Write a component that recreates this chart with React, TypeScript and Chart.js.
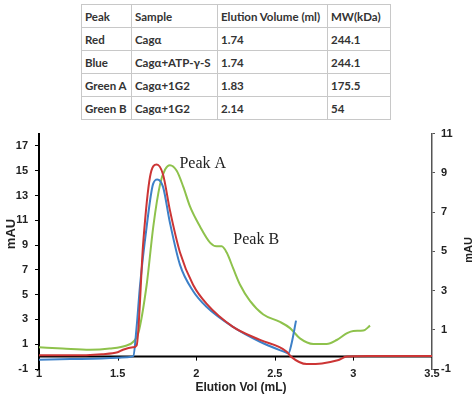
import React, { useEffect, useRef } from "react";
import { Chart, registerables } from "chart.js";
Chart.register(...registerables);

// Table data
const tablePeaks = ["Peak", "Red", "Blue", "Green A", "Green B"];
const tableSamples = ["Sample", "Cagα", "Cagα+ATP-γ-S", "Cagα+1G2", "Cagα+1G2"];
const tableElution = ["Elution Volume (ml)", "1.74", "1.74", "1.83", "2.14"];
const tableMW = ["MW(kDa)", "244.1", "244.1", "175.5", "54"];

// Chromatogram series (x: elution volume mL, y: mAU on left axis)
const redX = [1.0, 1.2, 1.4, 1.5, 1.534, 1.598, 1.621, 1.663, 1.706, 1.749, 1.789, 1.833, 1.897, 1.98, 2.067, 2.234, 2.406, 2.576, 2.603, 2.703, 2.8, 2.9, 2.959, 3.1, 3.5];
const redY = [0.1, 0.1, 0.2, 0.35, 0.55, 0.75, 0.9, 9.2, 14.5, 15.5, 14.7, 11.8, 8.4, 5.8, 4.25, 2.4, 1.35, 0.4, 0.0, -0.6, -0.55, -0.3, 0.0, 0.05, 0.05];

const blueX = [1.0, 1.2, 1.4, 1.5, 1.56, 1.6, 1.621, 1.643, 1.685, 1.725, 1.753, 1.789, 1.833, 1.897, 1.98, 2.067, 2.234, 2.406, 2.576, 2.586, 2.607, 2.635];
const blueY = [-0.25, -0.2, -0.15, -0.1, -0.05, 0.05, 2.4, 5.8, 10.5, 13.9, 14.3, 13.7, 10.8, 7.4, 5.3, 4.0, 2.4, 1.2, 0.3, 0.25, 1.08, 2.9];

const greenX = [1.0, 1.15, 1.324, 1.45, 1.558, 1.6, 1.632, 1.685, 1.727, 1.77, 1.802, 1.833, 1.876, 1.918, 1.961, 2.024, 2.088, 2.13, 2.162, 2.194, 2.236, 2.279, 2.342, 2.427, 2.533, 2.597, 2.66, 2.745, 2.83, 2.894, 2.957, 2.999, 3.063, 3.106];
const greenY = [0.75, 0.65, 0.55, 0.65, 0.9, 1.2, 1.9, 5.8, 10.5, 13.9, 15.1, 15.45, 15.0, 13.7, 12.1, 10.5, 9.2, 8.9, 8.9, 8.4, 7.1, 5.8, 4.5, 3.4, 2.8, 2.3, 1.47, 1.02, 1.02, 1.34, 1.87, 2.07, 2.1, 2.5];

// Tick labels
const xTicks = [1, 1.5, 2, 2.5, 3, 3.5];
const leftTicks = [-1, 1, 3, 5, 7, 9, 11, 13, 15, 17];
const rightTicks = [-1, 1, 3, 5, 7, 9, 11];

// Annotations
const annotTexts = ["Peak A", "Peak B"];
const annotX = [1.893, 2.236];
const annotY = [15.2, 9.1];

const toPts = (xs: number[], ys: number[]) => xs.map((x, i) => ({ x, y: ys[i] }));

const tickFont = { family: "'Liberation Sans', Arial, sans-serif", size: 11, weight: "bold" as const };

const overlayPlugin = {
  id: "overlay",
  beforeDatasetsDraw(chart: any) {
    const { ctx, scales } = chart;
    const xs = scales.x;
    const ys = scales.y;
    const y0 = ys.getPixelForValue(0);
    ctx.save();
    ctx.strokeStyle = "#000";
    ctx.lineWidth = 2;
    ctx.beginPath();
    ctx.moveTo(xs.left, y0);
    ctx.lineTo(xs.right, y0);
    ctx.stroke();
    ctx.lineWidth = 1;
    xTicks.forEach((t) => {
      if (t === 1 || t === 3.5) return;
      const px = Math.round(xs.getPixelForValue(t)) + 0.5;
      ctx.beginPath();
      ctx.moveTo(px, y0);
      ctx.lineTo(px, y0 + 4);
      ctx.stroke();
    });
    ctx.restore();
  },
  afterDraw(chart: any) {
    const { ctx, scales } = chart;
    ctx.save();
    ctx.fillStyle = "#222";
    ctx.font = "16px 'Liberation Serif', 'Times New Roman', serif";
    ctx.textAlign = "left";
    ctx.textBaseline = "alphabetic";
    annotTexts.forEach((t, i) => {
      ctx.fillText(t, scales.x.getPixelForValue(annotX[i]), scales.y.getPixelForValue(annotY[i]));
    });
    // axis titles
    ctx.fillStyle = "#222";
    ctx.font = "bold 12px 'Liberation Sans', Arial, sans-serif";
    ctx.textAlign = "center";
    ctx.textBaseline = "middle";
    ctx.fillText("Elution Vol (mL)", 241, 268);
    ctx.save();
    ctx.font = "bold 13px 'Liberation Sans', Arial, sans-serif";
    ctx.translate(11, 114);
    ctx.rotate(-Math.PI / 2);
    ctx.fillText("mAU", 0, 0);
    ctx.restore();
    ctx.save();
    ctx.font = "bold 11px 'Liberation Sans', Arial, sans-serif";
    ctx.translate(469, 130);
    ctx.rotate(-Math.PI / 2);
    ctx.fillText("mAU", 0, 0);
    ctx.restore();
    ctx.restore();
  },
};

function ChromChart() {
  const ref = useRef<HTMLCanvasElement | null>(null);
  useEffect(() => {
    if (!ref.current) return;
    const chart = new Chart(ref.current, {
      type: "line",
      data: {
        datasets: [
          { label: "Red", data: toPts(redX, redY), borderColor: "#cc3535", borderWidth: 2, pointRadius: 0, order: 0, cubicInterpolationMode: "monotone" },
          { label: "Blue", data: toPts(blueX, blueY), borderColor: "#3d80c8", borderWidth: 2, pointRadius: 0, order: 1, cubicInterpolationMode: "monotone" },
          { label: "Green", data: toPts(greenX, greenY), borderColor: "#8ec24c", borderWidth: 2, pointRadius: 0, order: 2, cubicInterpolationMode: "monotone" },
        ],
      },
      options: {
        animation: false,
        responsive: false,
        maintainAspectRatio: false,
        layout: { padding: { top: 7, left: 0, right: 0, bottom: 0 } },
        plugins: { legend: { display: false }, tooltip: { enabled: false } },
        scales: {
          x: {
            type: "linear",
            min: 1,
            max: 3.5,
            afterBuildTicks: (s: any) => { s.ticks = xTicks.map((v) => ({ value: v })); },
            afterFit: (s: any) => { s.height = 30; },
            grid: { display: false, drawTicks: false },
            border: { display: false },
            ticks: { font: tickFont, color: "#222", padding: -2, maxRotation: 0, autoSkip: false, callback: (v: any) => String(v) },
          },
          y: {
            type: "linear",
            position: "left",
            min: -1,
            max: 18,
            afterBuildTicks: (s: any) => { s.ticks = leftTicks.map((v) => ({ value: v })); },
            afterFit: (s: any) => { s.width = 39; },
            grid: { drawOnChartArea: false, drawTicks: true, tickLength: 4, color: "#000" },
            border: { display: true, color: "#000", width: 2 },
            ticks: { font: tickFont, color: "#222", padding: 7, autoSkip: false, callback: (v: any) => String(v) },
          },
          y2: {
            type: "linear",
            position: "right",
            min: -1,
            max: 11,
            afterBuildTicks: (s: any) => { s.ticks = rightTicks.map((v) => ({ value: v })); },
            afterFit: (s: any) => { s.width = 42; },
            grid: { drawOnChartArea: false, drawTicks: true, tickLength: 3, color: "#555" },
            border: { display: true, color: "#555", width: 1.5 },
            ticks: { font: tickFont, color: "#222", padding: 6, autoSkip: false, callback: (v: any) => String(v) },
          },
        },
      },
      plugins: [overlayPlugin],
    } as any);
    return () => chart.destroy();
  }, []);
  return <canvas ref={ref} width={474} height={279} style={{ position: "absolute", left: 0, top: 120, width: 474, height: 279 }} />;
}

export default function App() {
  const cell: React.CSSProperties = {
    border: "1px solid #c8c8c8",
    padding: "0 3px",
    height: 22,
    textAlign: "left",
    verticalAlign: "middle",
    whiteSpace: "nowrap",
  };
  const widths = [50, 86, 110, 63];
  return (
    <div style={{ position: "absolute", left: 0, top: 0, width: 474, height: 399, background: "#fff", overflow: "hidden" }}>
      <table
        style={{
          position: "absolute",
          left: 81,
          top: 4,
          width: 309,
          borderCollapse: "collapse",
          tableLayout: "fixed",
          fontFamily: "Lato, 'Liberation Sans', sans-serif",
          fontWeight: "bold",
          fontSize: 11.5,
          color: "#333",
        }}
      >
        <colgroup>
          {widths.map((w, i) => (
            <col key={i} style={{ width: w }} />
          ))}
        </colgroup>
        <tbody>
          {tablePeaks.map((p, i) => (
            <tr key={i} style={{ height: 23 }}>
              <td style={cell}>{p}</td>
              <td style={cell}>{tableSamples[i]}</td>
              <td style={cell}>{tableElution[i]}</td>
              <td style={cell}>{tableMW[i]}</td>
            </tr>
          ))}
        </tbody>
      </table>
      <ChromChart />
    </div>
  );
}
